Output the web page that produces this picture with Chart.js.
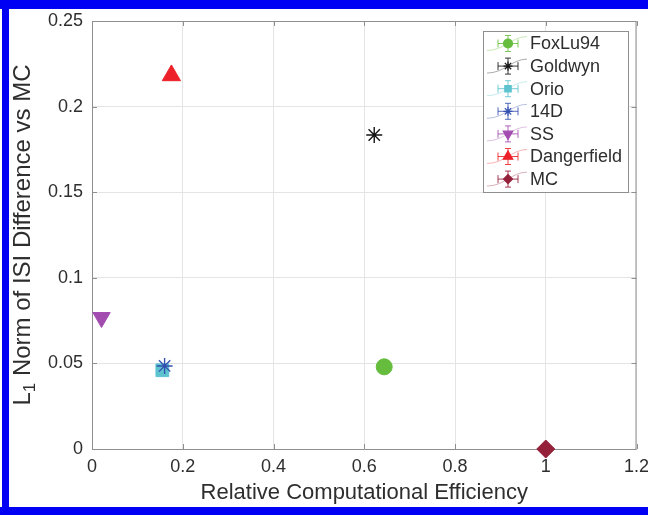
<!DOCTYPE html>
<html>
<head>
<meta charset="utf-8">
<script src="https://cdn.jsdelivr.net/npm/chart.js@4.4.1/dist/chart.umd.min.js"></script>
<style>
  html, body { margin: 0; padding: 0; background: #fff; }
  #wrap { width: 648px; height: 515px; position: relative; }
</style>
</head>
<body>
<div id="wrap"><canvas id="chart" width="648" height="515"></canvas></div>
<script>
// data
const seriesNames = ["FoxLu94", "Goldwyn", "Orio", "14D", "SS", "Dangerfield", "MC"];
const efficiency = [0.644, 0.622, 0.155, 0.160, 0.021, 0.175, 1.0];
const l1Norm = [0.048, 0.1834, 0.046, 0.0485, 0.0768, 0.2182, 0.0];
const xTicks = [0, 0.2, 0.4, 0.6, 0.8, 1, 1.2];
const yTicks = [0, 0.05, 0.1, 0.15, 0.2, 0.25];

// marker styles
const colors = ["#66bd3d", "#151515", "#5cc3cf", "#3551b0", "#a24cb0", "#ec2129", "#94203a"];
const markers = ["circle", "star", "rect", "star", "triangle", "triangle", "rectRot"];
const rotations = [0, 0, 0, 0, 180, 0, 0];
const radii = [8, 8, 9, 8, 10, 10.5, 9];

const FONT = "'Liberation Sans', Arial, Helvetica, sans-serif";
const frameColor = "#8f8f8f";
const textColor = "#2e2e2e";

const datasets = seriesNames.map((name, i) => ({
  label: name,
  data: [{ x: efficiency[i], y: l1Norm[i] }],
  pointStyle: markers[i],
  pointRotation: rotations[i],
  pointRadius: radii[i],
  pointBackgroundColor: colors[i],
  pointBorderColor: colors[i],
  pointBorderWidth: markers[i] === "star" ? 1.4 : 1,
  showLine: false,
  clip: false,
  order: seriesNames.length - i
}));

// box around the axes with ticks pointing in, like matlab
const framePlugin = {
  id: "frame",
  beforeDatasetsDraw(chart) {
    const { ctx, chartArea: a, scales } = chart;
    ctx.save();
    ctx.strokeStyle = frameColor;
    ctx.lineWidth = 1;
    ctx.beginPath();
    ctx.rect(a.left + 0.5, a.top + 0.5, a.right - a.left - 1, a.bottom - a.top);
    ctx.stroke();
    const tl = 5;
    ctx.beginPath();
    xTicks.forEach(v => {
      const px = Math.round(scales.x.getPixelForValue(v)) + 0.5;
      ctx.moveTo(px, a.bottom); ctx.lineTo(px, a.bottom - tl);
      ctx.moveTo(px, a.top); ctx.lineTo(px, a.top + tl);
    });
    yTicks.forEach(v => {
      const py = Math.round(scales.y.getPixelForValue(v)) + 0.5;
      ctx.moveTo(a.left, py); ctx.lineTo(a.left + tl, py);
      ctx.moveTo(a.right, py); ctx.lineTo(a.right - tl, py);
    });
    ctx.stroke();

    // y label with a real subscript 1
    const big = "24px " + FONT, small = "17px " + FONT;
    const parts = [["L", big, 0], ["1", small, 5], [" Norm of ISI Difference vs MC", big, 0]];
    let total = 0;
    parts.forEach(p => { ctx.font = p[1]; total += ctx.measureText(p[0]).width; });
    ctx.translate(30, (a.top + a.bottom) / 2);
    ctx.rotate(-Math.PI / 2);
    ctx.fillStyle = textColor;
    ctx.textBaseline = "alphabetic";
    ctx.textAlign = "left";
    let x = -total / 2;
    parts.forEach(p => {
      ctx.font = p[1];
      ctx.fillText(p[0], x, p[2]);
      x += ctx.measureText(p[0]).width;
    });
    ctx.restore();
  }
};

// legend box with errorbar glyphs
const legendPlugin = {
  id: "errLegend",
  afterDatasetsDraw(chart) {
    const { ctx } = chart;
    const bx = 483, by = 31, bw = 145, bh = 161;
    ctx.save();
    ctx.fillStyle = "#fff";
    ctx.fillRect(bx, by, bw, bh);
    ctx.strokeStyle = frameColor;
    ctx.lineWidth = 1;
    ctx.strokeRect(bx + 0.5, by + 0.5, bw, bh);
    const rowH = 22.6;
    seriesNames.forEach((name, i) => {
      const cy = by + 12.5 + i * rowH;
      const cx = 508;
      const c = colors[i];
      // faint curve
      ctx.globalAlpha = 0.35;
      ctx.strokeStyle = c;
      ctx.lineWidth = 1;
      ctx.beginPath();
      ctx.moveTo(cx - 21, cy + 7);
      ctx.bezierCurveTo(cx - 4, cy + 7, cx + 4, cy - 7, cx + 19, cy - 7);
      ctx.stroke();
      // error bars
      ctx.globalAlpha = 0.85;
      ctx.beginPath();
      ctx.moveTo(cx - 10, cy); ctx.lineTo(cx + 10, cy);
      ctx.moveTo(cx - 10, cy - 4); ctx.lineTo(cx - 10, cy + 4);
      ctx.moveTo(cx + 10, cy - 4); ctx.lineTo(cx + 10, cy + 4);
      ctx.moveTo(cx, cy - 8); ctx.lineTo(cx, cy + 8);
      ctx.moveTo(cx - 3, cy - 8); ctx.lineTo(cx + 3, cy - 8);
      ctx.moveTo(cx - 3, cy + 8); ctx.lineTo(cx + 3, cy + 8);
      ctx.stroke();
      ctx.globalAlpha = 1;
      ctx.fillStyle = c;
      ctx.strokeStyle = c;
      ctx.lineWidth = 1.2;
      Chart.helpers.drawPoint(ctx, {
        pointStyle: markers[i],
        radius: markers[i] === "triangle" ? 5.5 : 4.5,
        rotation: rotations[i],
        borderWidth: 1
      }, cx, cy);
      ctx.fillStyle = textColor;
      ctx.font = "18px " + FONT;
      ctx.textAlign = "left";
      ctx.textBaseline = "middle";
      ctx.fillText(name, 530, cy + 1);
    });
    ctx.restore();
  }
};

// blue frame of the figure
const borderPlugin = {
  id: "blueBorder",
  beforeDraw(chart) {
    const { ctx, width, height } = chart;
    ctx.save();
    ctx.fillStyle = "#fff";
    ctx.fillRect(0, 0, width, height);
    ctx.restore();
  },
  afterDraw(chart) {
    const { ctx, width, height } = chart;
    ctx.save();
    ctx.fillStyle = "#0000f5";
    ctx.fillRect(0, 0, width, 9);
    ctx.fillRect(2, 0, 7, height);
    ctx.fillRect(0, height - 8, width, 8);
    ctx.restore();
  }
};

new Chart(document.getElementById("chart"), {
  type: "scatter",
  data: { datasets },
  plugins: [borderPlugin, framePlugin, legendPlugin],
  options: {
    responsive: false,
    animation: false,
    devicePixelRatio: 1,
    layout: { padding: { left: 0, top: 21, right: 10, bottom: 0 } },
    plugins: { legend: { display: false }, tooltip: { enabled: false } },
    scales: {
      x: {
        type: "linear",
        min: 0,
        max: 1.2,
        afterBuildTicks: s => { s.ticks = xTicks.map(v => ({ value: v })); },
        afterFit: s => { s.height = 66; s.paddingLeft = 0; s.paddingRight = 0; },
        ticks: {
          callback: v => String(v),
          color: textColor,
          font: { family: FONT, size: 18 },
          padding: 7,
          maxRotation: 0,
          autoSkip: false
        },
        grid: { color: "#e4e4e4", drawTicks: false },
        border: { display: false },
        title: {
          display: true,
          text: "Relative Computational Efficiency",
          color: textColor,
          font: { family: FONT, size: 22 },
          padding: { top: 0, bottom: 9 }
        }
      },
      y: {
        type: "linear",
        min: 0,
        max: 0.25,
        afterBuildTicks: s => { s.ticks = yTicks.map(v => ({ value: v })); },
        afterFit: s => { s.width = 92; s.paddingTop = 0; s.paddingBottom = 0; },
        ticks: {
          callback: v => String(v),
          color: textColor,
          font: { family: FONT, size: 18 },
          padding: 9,
          autoSkip: false
        },
        grid: { color: "#e4e4e4", drawTicks: false },
        border: { display: false },
        title: { display: false }
      }
    }
  }
});
</script>
</body>
</html>
